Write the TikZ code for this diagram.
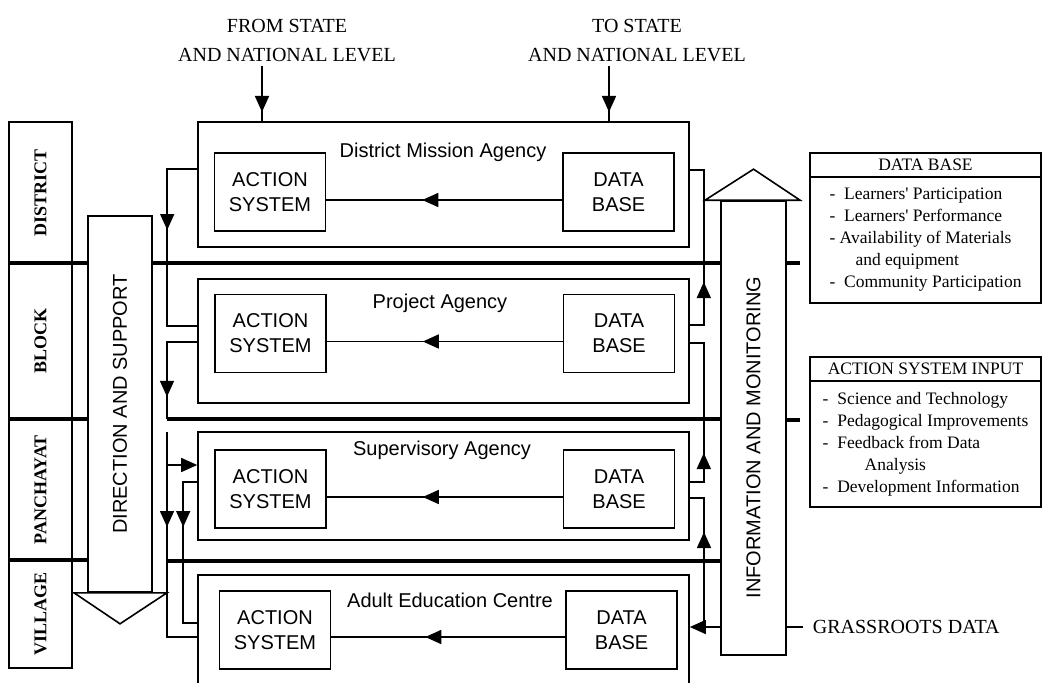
\documentclass[tikz,border=0pt]{standalone}
\usepackage{fontspec}
\setmainfont{Liberation Serif}
\newfontfamily\optfont{Liberation Sans}
\usetikzlibrary{arrows.meta,positioning,decorations.markings}
\tikzset{
    >={Triangle[length=16pt,width=14pt]},
    %line width=1.6pt,
    agency frame/.style={draw,minimum width=491pt},
    unit box/.style={draw,align=center,minimum width=111pt,minimum height=78pt,
        font=\optfont\fontsize{20}{25}\selectfont},
    agency title/.style={anchor=base,font=\optfont\fontsize{20}{24}\selectfont},
    level box/.style={draw,rotate=90,minimum height=63pt,
        font=\bfseries\fontsize{18}{20}\selectfont},
    column box/.style={draw,fill=white,rotate=90,
        font=\optfont\fontsize{20}{24}\selectfont},
    flow label/.style={align=center,font=\fontsize{20}{29}\selectfont},
    list head/.style={draw,minimum width=231pt,minimum height=24pt,
        font=\fontsize{17.5}{20}\selectfont},
    list body/.style={draw,align=left,minimum width=231pt,minimum height=126pt,
        font=\fontsize{17.5}{22}\selectfont},
    sep line/.style={line width=4.5pt},
    mid arrow/.style={postaction={decorate},
        decoration={markings,mark=at position #1 with {\arrow{>}}}}
}
\begin{document}
\begin{tikzpicture}[x=1pt,y=-1pt,line width=1.6pt]
    \useasboundingbox (0,0) rectangle (1051,682);
    \clip (0,0) rectangle (1051,682);
    % levels
    \node[level box,minimum width=141pt] (dist) at (40.5,192.5) {DISTRICT};
    \node[level box,minimum width=156pt] (block) at (40.5,341) {BLOCK};
    \node[level box,minimum width=141pt] (panch) at (40.5,489.5) {PANCHAYAT};
    \node[level box,minimum width=108pt] (vill) at (40.5,614) {VILLAGE};
    \draw[sep line] (9,263) -- (88,263) (152,263) -- (721,263) (786,263) -- (800,263);
    \draw[sep line] (9,419) -- (88,419) (167,419) -- (721,419) (786,420) -- (800,420);
    \draw[sep line] (9,560) -- (88,560) (167,561) -- (721,561);
    % agencies
    \node[agency frame,minimum height=125pt] (fr1) at (443.5,184.5) {};
    \node[agency frame,minimum height=124pt] (fr2) at (443.5,341) {};
    \node[agency frame,minimum height=108pt] (fr3) at (443.5,486) {};
    \node[agency frame,minimum height=130pt] (fr4) at (443.5,640) {};
    \node[agency title] (t1) at (443,157) {District Mission Agency};
    \node[agency title] (t2) at (440,308) {Project Agency};
    \node[agency title] (t3) at (442,455.5) {Supervisory Agency};
    \node[agency title] (t4) at (450,607.5) {Adult Education Centre};
    \node[unit box] (as1) at (270,192) {ACTION\\SYSTEM};
    \node[unit box] (db1) [right=236pt of as1] {DATA\\BASE};
    \node[unit box] (as2) at (270.5,333.5) {ACTION\\SYSTEM};
    \node[unit box] (db2) [right=236pt of as2] {DATA\\BASE};
    \node[unit box] (as3) at (270.5,489) {ACTION\\SYSTEM};
    \node[unit box] (db3) [right=236pt of as3] {DATA\\BASE};
    \node[unit box] (as4) at (275,630) {ACTION\\SYSTEM};
    \node[unit box] (db4) [right=234pt of as4] {DATA\\BASE};
    \path
        ([yshift=-8pt]db1.west) edge [mid arrow=140pt] ([yshift=-8pt]as1.east)
        ([yshift=-8pt]db2.west) edge [mid arrow=140pt] ([yshift=-8pt]as2.east)
        ([yshift=-8pt]db3.west) edge [mid arrow=140pt] ([yshift=-8pt]as3.east)
        ([yshift=-7pt]db4.west) edge [mid arrow=140pt] ([yshift=-7pt]as4.east);
    % state and national level
    \node[flow label,anchor=south] (from) at (287,66) {FROM STATE\\AND NATIONAL LEVEL};
    \node[flow label,anchor=south] (to) at (637,66) {TO STATE\\AND NATIONAL LEVEL};
    \path
        ([xshift=-25pt]from.south) edge [mid arrow=46pt] ([xshift=-25pt]from.south |- fr1.north)
        ([xshift=-28pt]to.south) edge [mid arrow=46pt] ([xshift=-28pt]to.south |- fr1.north);
    % columns
    \node[column box,minimum width=376pt,minimum height=64pt] (dir) at (120,404) {DIRECTION AND SUPPORT};
    \draw[fill=white] ([xshift=-46pt]dir.west) -- ([xshift=47pt]dir.west) -- ([yshift=-31pt]dir.west) -- cycle;
    \node[column box,minimum width=454pt,minimum height=65pt] (info) at (753.5,428) {INFORMATION AND MONITORING\hspace*{19pt}};
    \draw[fill=white] ([xshift=-48.5pt]info.east) -- ([xshift=46.5pt]info.east) -- ([yshift=31pt]info.east) -- cycle;
    % direction links
    \coordinate (s2) at (167,419);
    \coordinate (c3) at (167,432);
    \coordinate (jn) at (704,627);
    \draw[mid arrow=91pt] ([yshift=15.5pt]fr1.west) -- ++(-30,0) |- ([yshift=15pt]fr2.west);
    \draw[mid arrow=85pt] ([yshift=-1pt]fr2.west) -| (s2);
    \draw[mid arrow=95pt] (c3) |- ([yshift=3pt]fr4.west);
    \draw[->] (c3) |- ([yshift=21pt]fr3.west);
    \draw[mid arrow=59pt] ([yshift=4pt]fr3.west) -- ++(-14,0) |- ([yshift=17pt]fr4.west);
    % information links
    \draw[mid arrow=57pt] ([yshift=16pt]fr2.east) -- ++(14,0) |- ([yshift=14.5pt]fr1.east);
    \draw[mid arrow=43pt] ([yshift=4pt]fr3.east) -- ++(14,0) |- ([yshift=-2pt]fr2.east);
    \node[flow label,anchor=west,inner xsep=9pt] (gd) at (803,627) {GRASSROOTS DATA};
    \draw[->] (info.north |- gd.west) -- (fr4.east |- gd.west);
    \draw (info.south |- gd.west) -- (gd.west);
    \draw[mid arrow=95pt] (jn) |- ([yshift=-12pt]fr3.east);
    % lists
    \node[list head] (dbh) at (925.5,165) {DATA BASE};
    \node[list body] (dbl) [below=-1.6pt of dbh] {-\ \ Learners\textquotesingle\ Participation\\
        -\ \ Learners\textquotesingle\ Performance\\
        - Availability of Materials\\
        \hspace*{26pt}and equipment\\
        -\ \ Community Participation};
    \node[list head] (ash) at (925.5,369) {ACTION SYSTEM INPUT};
    \node[list body] (asl) [below=-1.6pt of ash] {-\ \ Science and Technology\\
        -\ \ Pedagogical Improvements\\
        -\ \ Feedback from Data\\
        \hspace*{42pt}Analysis\\
        -\ \ Development Information};
\end{tikzpicture}
\end{document}
